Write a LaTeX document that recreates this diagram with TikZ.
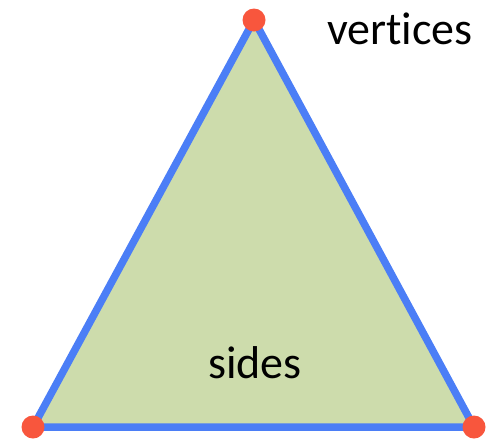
\documentclass[tikz,border=0pt]{standalone}
\usepackage{fontspec}
\setmainfont{Carlito}[Ligatures=NoCommon]
\usetikzlibrary{positioning}
\definecolor{EdgeBlue}{HTML}{4B7EF6}
\definecolor{FaceGreen}{HTML}{CDDCAC}
\definecolor{DotRed}{HTML}{F8563D}
\definecolor{ShadowGray}{HTML}{D8D8D8}

\begin{document}
\begin{tikzpicture}[x=1pt,y=-1pt]
    \tikzset{
      corner/.style={circle,fill=DotRed,inner sep=0pt,minimum size=23pt},
      caption/.style={font=\fontsize{46}{50}\selectfont,anchor=base,inner sep=0pt}
    }
    \useasboundingbox (0,0) rectangle (494,440);
    \coordinate (top) at (254,20);
    \coordinate (left) at (33,427);
    \coordinate (right) at (474,427);
    % shadow and face
    \fill[ShadowGray,opacity=0.6] ([yshift=-3pt]top) -- ([yshift=-3pt]left) -- ([yshift=-3pt]right) -- cycle;
    \filldraw[fill=FaceGreen,draw=EdgeBlue,line width=7.5pt,line join=miter] (top) -- (left) -- (right) -- cycle;
    \node[corner] (vtop) at (top) {};
    \node[corner] (vleft) at (left) {};
    \node[corner] (vright) at (right) {};
    \node[caption] (verts) at (400,44) {vertices};
    \node[caption] (sides) at (255,378) {sides};
  \end{tikzpicture}
\end{document}
